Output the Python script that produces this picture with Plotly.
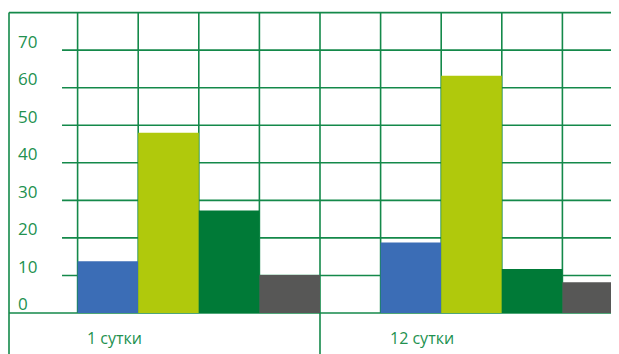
import plotly.graph_objects as go

# ---- data ----
categories = ["1 сутки", "12 сутки"]
series_names = ["Серия 1", "Серия 2", "Серия 3", "Серия 4"]
series_colors = ["#3b6db6", "#b0c90c", "#007a37", "#575756"]
values = {
    "Серия 1": [13.8, 18.8],
    "Серия 2": [48.0, 63.2],
    "Серия 3": [27.3, 11.7],
    "Серия 4": [10.1, 8.2],
}
y_ticks = [0, 10, 20, 30, 40, 50, 60, 70]
y_top = 80

# ---- layout constants ----
GROUP = 5          # slots per category (1 gap + 4 bars)
LINE = "#14894a"
TEXT = "#22914f"
FONT = "Open Sans"
X0, X1 = -0.1485, 9.934
Y0, Y1 = -10.92, 81.22
FRAME_X = -0.132
GRID_START = 0.743

fig = go.Figure()
for j, name in enumerate(series_names):
    xs = [GROUP * i + 1.5 + j for i in range(len(categories))]
    fig.add_trace(go.Bar(
        x=xs, y=values[name], width=1, name=name,
        marker=dict(color=series_colors[j], line=dict(width=0)),
        showlegend=False, hoverinfo="y",
    ))

shapes = []
for t in y_ticks[1:]:
    shapes.append(dict(type="line", xref="x", yref="y", x0=GRID_START, x1=X1 + 1,
                       y0=t, y1=t, line=dict(color=LINE, width=1.6), layer="below"))
for t in (0, y_top):
    shapes.append(dict(type="line", xref="x", yref="y", x0=FRAME_X, x1=X1 + 1,
                       y0=t, y1=t, line=dict(color=LINE, width=1.6), layer="below"))
n = len(categories)
for i in range(n):
    for k in range(1, GROUP + 1):
        xv = GROUP * i + k
        y_low = Y0 - 1 if k == GROUP else 0
        shapes.append(dict(type="line", xref="x", yref="y", x0=xv, x1=xv,
                           y0=y_low, y1=y_top, line=dict(color=LINE, width=1.6), layer="below"))
shapes.append(dict(type="line", xref="x", yref="y", x0=FRAME_X, x1=FRAME_X,
                   y0=Y0 - 1, y1=y_top, line=dict(color=LINE, width=1.6), layer="below"))

annotations = []
for t in y_ticks:
    annotations.append(dict(x=0, y=t, xref="x", yref="y", text=str(t), showarrow=False,
                            xanchor="left", yanchor="middle", xshift=-1, yshift=9,
                            font=dict(family=FONT, size=17, color=TEXT)))
for i, c in enumerate(categories):
    annotations.append(dict(x=GROUP * i + 1, y=0, xref="x", yref="y", text=c, showarrow=False,
                            xanchor="left", yanchor="middle", xshift=7, yshift=-25,
                            font=dict(family=FONT, size=16, color=TEXT)))

fig.update_layout(
    width=611, height=346,
    margin=dict(l=0, r=0, t=0, b=0),
    paper_bgcolor="white", plot_bgcolor="white",
    xaxis=dict(range=[X0, X1], visible=False, fixedrange=True),
    yaxis=dict(range=[Y0, Y1], visible=False, fixedrange=True),
    barmode="overlay",
    shapes=shapes, annotations=annotations,
)

fig.write_html("out.html")
